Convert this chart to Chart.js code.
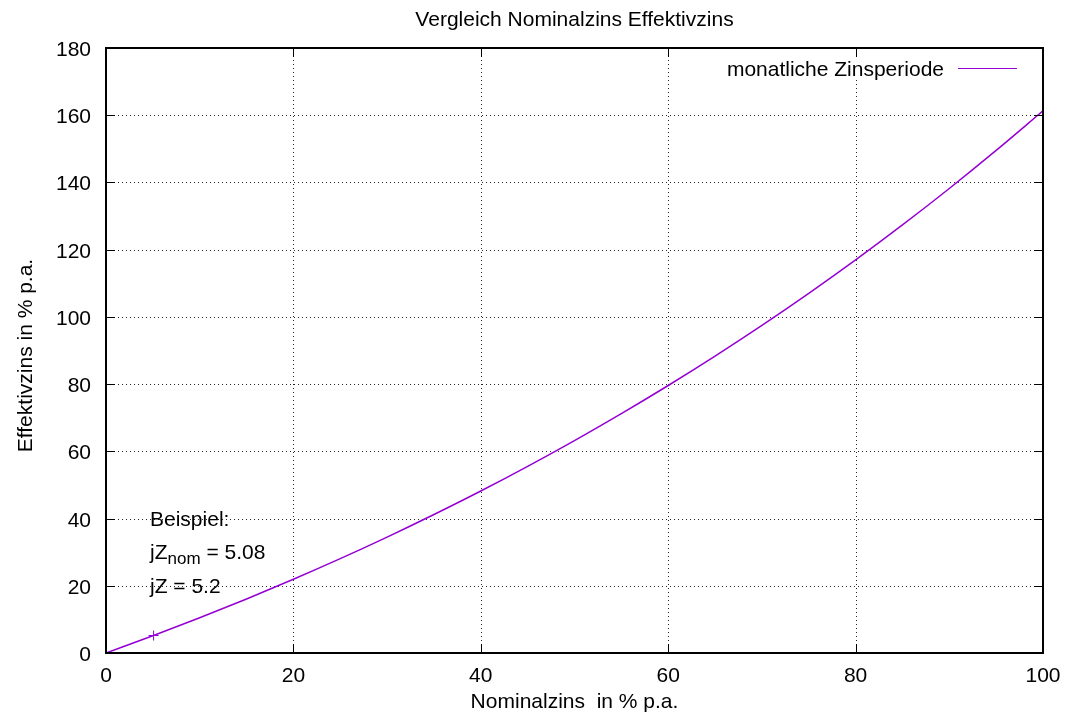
<!DOCTYPE html>
<html>
<head>
<meta charset="utf-8">
<script src="https://cdn.jsdelivr.net/npm/chart.js@4/dist/chart.umd.min.js"></script>
<style>
html,body{margin:0;padding:0;background:#fff;}
#c{display:block;}
</style>
</head>
<body>
<canvas id="c" width="1068" height="721"></canvas>
<script>
// Data
const nominal = [0,5,10,15,20,25,30,35,40,45,50,55,60,65,70,75,80,85,90,95,100];
const effective = [0,5.12,10.47,16.08,21.94,28.07,34.49,41.21,48.21,55.55,63.21,71.22,79.59,88.33,97.46,107.0,116.95,127.35,138.2,149.53,161.3];
const exampleNominal = [5.08];
const exampleEffective = [5.2];
const xTicks = [0,20,40,60,80,100];
const yTicks = [0,20,40,60,80,100,120,140,160,180];
const titleText = 'Vergleich Nominalzins Effektivzins';
const xTitle = 'Nominalzins  in % p.a.';
const yTitle = 'Effektivzins in % p.a.';
const seriesLabel = 'monatliche Zinsperiode';
const noteLines = ['Beispiel:', 'jZ', 'nom', ' = 5.08', 'jZ = 5.2'];

const PURPLE = '#9400d3';
const FONT = '"Liberation Sans", Arial, sans-serif';
const FS = '21px ';

const gnuPlugin = {
  id: 'gnu',
  beforeDatasetsDraw(chart) {
    const ctx = chart.ctx, a = chart.chartArea;
    const xs = chart.scales.x, ys = chart.scales.y;
    ctx.save();
    ctx.strokeStyle = 'rgba(0,0,0,0.85)';
    ctx.lineWidth = 1;
    ctx.setLineDash([1,3]);
    xTicks.forEach(v => {
      if (v === xs.min || v === xs.max) return;
      const px = Math.round(xs.getPixelForValue(v)) + 0.5;
      ctx.beginPath(); ctx.moveTo(px, a.top); ctx.lineTo(px, a.bottom); ctx.stroke();
    });
    yTicks.forEach(v => {
      if (v === ys.min || v === ys.max) return;
      const py = Math.round(ys.getPixelForValue(v)) + 0.5;
      ctx.beginPath(); ctx.moveTo(a.left, py); ctx.lineTo(a.right, py); ctx.stroke();
    });
    ctx.setLineDash([]);
    // legend (opaque key)
    ctx.fillStyle = '#fff';
    ctx.fillRect(722, 58, 300, 22);
    ctx.fillStyle = '#000';
    ctx.font = FS + FONT;
    ctx.textAlign = 'right';
    ctx.textBaseline = 'alphabetic';
    ctx.fillText(seriesLabel, 944, 76);
    ctx.strokeStyle = PURPLE;
    ctx.lineWidth = 1.2;
    ctx.beginPath(); ctx.moveTo(958, 68.5); ctx.lineTo(1017, 68.5); ctx.stroke();
    // annotation
    ctx.textAlign = 'left';
    ctx.fillStyle = '#000';
    ctx.font = FS + FONT;
    ctx.fillText(noteLines[0], 150, 526);
    ctx.fillText(noteLines[1], 150, 559);
    const w1 = ctx.measureText(noteLines[1]).width;
    ctx.font = '17px ' + FONT;
    ctx.fillText(noteLines[2], 150 + w1, 564);
    const w2 = ctx.measureText(noteLines[2]).width;
    ctx.font = FS + FONT;
    ctx.fillText(noteLines[3], 150 + w1 + w2, 559);
    ctx.fillText(noteLines[4], 150, 593);
    ctx.restore();
  },
  afterDatasetsDraw(chart) {
    const ctx = chart.ctx, a = chart.chartArea;
    const xs = chart.scales.x, ys = chart.scales.y;
    ctx.save();
    ctx.strokeStyle = '#000';
    ctx.lineWidth = 1;
    const T = 9;
    xTicks.forEach(v => {
      const px = Math.round(xs.getPixelForValue(v)) + 0.5;
      ctx.beginPath();
      ctx.moveTo(px, a.bottom); ctx.lineTo(px, a.bottom - T);
      ctx.moveTo(px, a.top); ctx.lineTo(px, a.top + T);
      ctx.stroke();
    });
    yTicks.forEach(v => {
      const py = Math.round(ys.getPixelForValue(v)) + 0.5;
      ctx.beginPath();
      ctx.moveTo(a.left, py); ctx.lineTo(a.left + T, py);
      ctx.moveTo(a.right, py); ctx.lineTo(a.right - T, py);
      ctx.stroke();
    });
    ctx.lineWidth = 2;
    ctx.strokeRect(a.left, a.top, a.right - a.left, a.bottom - a.top);
    // tick labels
    ctx.fillStyle = '#000';
    ctx.font = FS + FONT;
    ctx.textBaseline = 'alphabetic';
    ctx.textAlign = 'center';
    xTicks.forEach(v => ctx.fillText(String(v), xs.getPixelForValue(v), a.bottom + 29));
    ctx.textAlign = 'right';
    yTicks.forEach(v => ctx.fillText(String(v), 91, ys.getPixelForValue(v) + 8));
    // titles
    const cx = (a.left + a.right) / 2;
    ctx.textAlign = 'center';
    ctx.fillText(titleText, cx, 26);
    ctx.fillText(xTitle, cx, 708);
    ctx.save();
    ctx.translate(32, (a.top + a.bottom) / 2 + 5);
    ctx.rotate(-Math.PI / 2);
    ctx.textBaseline = 'alphabetic';
    ctx.fillText(yTitle, 0, 0);
    ctx.restore();
    ctx.restore();
  }
};

new Chart(document.getElementById('c'), {
  type: 'scatter',
  data: {
    datasets: [
      {
        label: seriesLabel,
        data: nominal.map((x, i) => ({x, y: effective[i]})),
        showLine: true,
        borderColor: PURPLE,
        borderWidth: 1.5,
        pointRadius: 0,
        cubicInterpolationMode: 'monotone',
        fill: false
      },
      {
        label: 'Beispiel',
        data: exampleNominal.map((x, i) => ({x, y: exampleEffective[i]})),
        showLine: false,
        pointStyle: 'cross',
        pointRadius: 5,
        borderColor: PURPLE,
        borderWidth: 1,
        backgroundColor: PURPLE
      }
    ]
  },
  options: {
    responsive: false,
    animation: false,
    devicePixelRatio: 1,
    layout: { padding: { left: 106, right: 25, top: 48, bottom: 68 } },
    plugins: { legend: { display: false }, title: { display: false }, tooltip: { enabled: false } },
    scales: {
      x: { type: 'linear', min: 0, max: 100, display: false },
      y: { type: 'linear', min: 0, max: 180, display: false }
    }
  },
  plugins: [gnuPlugin]
});
</script>
</body>
</html>
